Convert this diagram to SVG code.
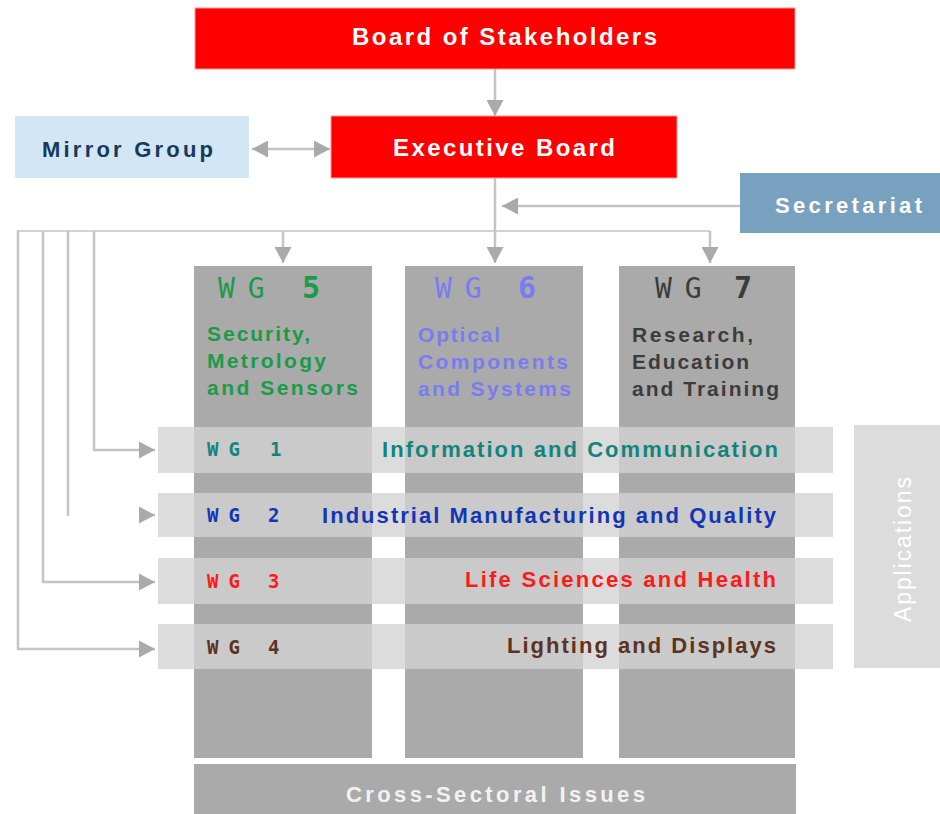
<svg xmlns="http://www.w3.org/2000/svg" width="940" height="814" viewBox="0 0 940 814">
  <style>
    .lbl { font-family: "Liberation Sans", Arial, sans-serif; font-size: 22px; font-weight: bold; }
    .desc { font-family: "Liberation Sans", Arial, sans-serif; font-size: 21px; font-weight: bold; }
    .hdr { font-family: "Liberation Sans", Arial, sans-serif; font-size: 24px; font-weight: bold; fill: #ffffff; }
    .wg  { font-family: "DejaVu Sans Mono", "Liberation Mono", monospace; }
    .wgs { font-family: "DejaVu Sans Mono", "Liberation Mono", monospace; font-size: 19px; font-weight: bold; }
    .conn { fill: none; stroke: #c4c4c4; stroke-width: 2.5; }
    .thin { fill: none; stroke: #c4c4c4; stroke-width: 1.5; }
    .col { fill: #aaaaaa; }
    .row { fill: #d3d3d3; fill-opacity: 0.79; }
  </style>
  <defs>
    <marker id="ah" viewBox="0 0 16 16" refX="16" refY="8" markerWidth="16" markerHeight="17" markerUnits="userSpaceOnUse" orient="auto-start-reverse" preserveAspectRatio="none">
      <path d="M0,0 L16,8 L0,16 z" fill="#aaaaaa"/>
    </marker>
  </defs>

  <rect width="940" height="814" fill="#ffffff"/>

  <!-- connectors -->
  <g id="connectors">
    <path class="conn" d="M495,69 V116" marker-end="url(#ah)"/>
    <path class="conn" d="M252,149 H330" marker-start="url(#ah)" marker-end="url(#ah)"/>
    <path class="conn" d="M740,206 H502" marker-end="url(#ah)"/>
    <path class="conn" d="M495,178 V263" marker-end="url(#ah)"/>
    <path class="thin" d="M17,231 H710"/>
    <path class="conn" d="M283,231 V263" marker-end="url(#ah)"/>
    <path class="conn" d="M710,231 V263" marker-end="url(#ah)"/>
    <path class="conn" d="M94,231 V450 H155" marker-end="url(#ah)"/>
    <path class="conn" d="M68,231 V516"/>
    <path class="conn" d="M140,515 H155" marker-end="url(#ah)"/>
    <path class="conn" d="M43,231 V582 H155" marker-end="url(#ah)"/>
    <path class="conn" d="M18,231 V649 H155" marker-end="url(#ah)"/>
  </g>

  <!-- governance boxes -->
  <g id="board">
    <rect x="195" y="8" width="600" height="61" fill="#fe0000" stroke="#ff9a9a" stroke-width="1"/>
    <text class="hdr" x="352" y="45" textLength="305" lengthAdjust="spacing">Board of Stakeholders</text>
  </g>
  <g id="executive">
    <rect x="331" y="116" width="346" height="62" fill="#fe0000" stroke="#ff9a9a" stroke-width="1"/>
    <text class="hdr" x="393" y="156" font-size="25" textLength="222" lengthAdjust="spacing">Executive Board</text>
  </g>
  <g id="mirror">
    <rect x="15" y="116" width="234" height="62" fill="#d2e6f5"/>
    <text class="lbl" x="42" y="157" font-size="24" fill="#163a5e" textLength="171" lengthAdjust="spacing">Mirror Group</text>
  </g>
  <g id="secretariat">
    <rect x="740" y="173" width="200" height="60" fill="#78a0bf"/>
    <text class="lbl" x="775" y="213" font-size="27" fill="#ffffff" textLength="147" lengthAdjust="spacing">Secretariat</text>
  </g>

  <!-- vertical working groups -->
  <g id="columns">
    <rect class="col" x="194" y="266" width="178" height="492"/>
    <rect class="col" x="405" y="266" width="178" height="492"/>
    <rect class="col" x="619" y="266" width="176" height="492"/>
  </g>

  <g id="wg5">
    <text class="wg" x="218" y="298" font-size="28" letter-spacing="13" fill="#1a9b48">WG</text>
    <text class="wg" x="302" y="298" font-size="30" font-weight="bold" fill="#1a9b48">5</text>
    <text class="desc" fill="#1a9b48">
      <tspan x="207" y="341" textLength="103" lengthAdjust="spacing">Security,</tspan>
      <tspan x="207" y="368" textLength="119" lengthAdjust="spacing">Metrology</tspan>
      <tspan x="207" y="395" textLength="151" lengthAdjust="spacing">and Sensors</tspan>
    </text>
  </g>
  <g id="wg6">
    <text class="wg" x="435" y="298" font-size="28" letter-spacing="13" fill="#7b7bf0">WG</text>
    <text class="wg" x="518" y="298" font-size="30" font-weight="bold" fill="#7b7bf0">6</text>
    <text class="desc" fill="#7b7bf0">
      <tspan x="418" y="342" textLength="82" lengthAdjust="spacing">Optical</tspan>
      <tspan x="418" y="369" textLength="150" lengthAdjust="spacing">Components</tspan>
      <tspan x="418" y="396" textLength="153" lengthAdjust="spacing">and Systems</tspan>
    </text>
  </g>
  <g id="wg7">
    <text class="wg" x="655" y="298" font-size="28" letter-spacing="13" fill="#3c3c3c">WG</text>
    <text class="wg" x="734" y="298" font-size="30" font-weight="bold" fill="#3c3c3c">7</text>
    <text class="desc" fill="#3c3c3c">
      <tspan x="632" y="342" textLength="121" lengthAdjust="spacing">Research,</tspan>
      <tspan x="632" y="369" textLength="117" lengthAdjust="spacing">Education</tspan>
      <tspan x="632" y="396" textLength="147" lengthAdjust="spacing">and Training</tspan>
    </text>
  </g>

  <!-- horizontal working groups (drawn over the columns) -->
  <g id="wg1">
    <rect class="row" x="158" y="427" width="675" height="46"/>
    <text class="wgs" x="207" y="456" letter-spacing="10" fill="#11857d">WG</text>
    <text class="wgs" x="270" y="456" fill="#11857d">1</text>
    <text class="lbl" x="382" y="457" fill="#11857d" textLength="396" lengthAdjust="spacing">Information and Communication</text>
  </g>
  <g id="wg2">
    <rect class="row" x="158" y="493" width="675" height="44"/>
    <text class="wgs" x="207" y="522" letter-spacing="10" fill="#1535b5">WG</text>
    <text class="wgs" x="268" y="522" fill="#1535b5">2</text>
    <text class="lbl" x="322" y="523" fill="#1535b5" textLength="454" lengthAdjust="spacing">Industrial Manufacturing and Quality</text>
  </g>
  <g id="wg3">
    <rect class="row" x="158" y="558" width="675" height="46"/>
    <text class="wgs" x="207" y="588" letter-spacing="10" fill="#ff1a1a">WG</text>
    <text class="wgs" x="268" y="588" fill="#ff1a1a">3</text>
    <text class="lbl" x="465" y="587" fill="#ff1a1a" textLength="311" lengthAdjust="spacing">Life Sciences and Health</text>
  </g>
  <g id="wg4">
    <rect class="row" x="158" y="624" width="675" height="45"/>
    <text class="wgs" x="207" y="654" letter-spacing="10" fill="#5c3322">WG</text>
    <text class="wgs" x="268" y="654" fill="#5c3322">4</text>
    <text class="lbl" x="507" y="653" fill="#5c3322" textLength="269" lengthAdjust="spacing">Lighting and Displays</text>
  </g>

  <g id="applications">
    <rect x="854" y="425" width="86" height="243" fill="#dcdcdc"/>
    <text transform="translate(911,622) rotate(-90)" x="0" y="0" font-family="'Liberation Sans', Arial, sans-serif" font-size="23" fill="#ffffff" textLength="145" lengthAdjust="spacing">Applications</text>
  </g>

  <g id="cross-sectoral">
    <rect x="194" y="764" width="602" height="50" fill="#aaaaaa"/>
    <text class="lbl" x="346" y="802" font-size="24" fill="#f2f2f2" textLength="299" lengthAdjust="spacing">Cross-Sectoral Issues</text>
  </g>
</svg>
